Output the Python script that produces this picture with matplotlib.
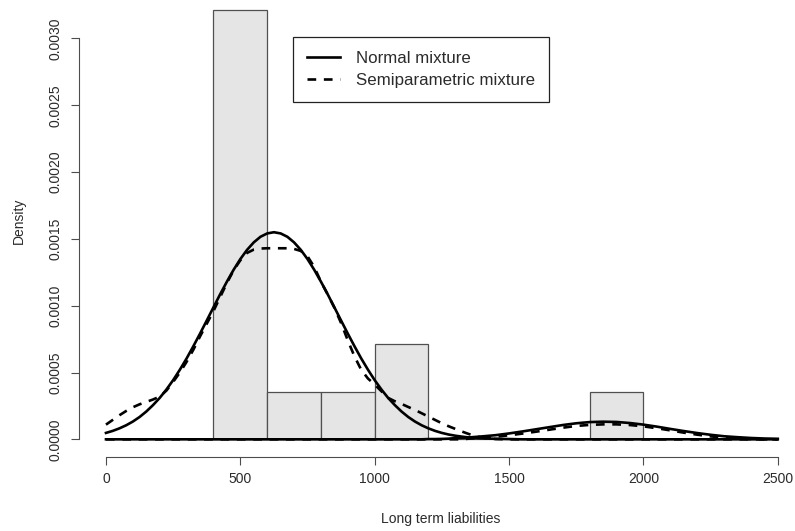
import numpy as np
import matplotlib.pyplot as plt

plt.rcParams['font.family'] = ['Liberation Sans', 'DejaVu Sans']

# histogram of long term liabilities (bin edges and counts per bin)
bin_edges = [400, 600, 800, 1000, 1200, 1400, 1600, 1800, 2000]
bin_counts = [9, 1, 1, 2, 0, 0, 0, 1]

# density curves:
# x every 25 from 0 to 1400, then every 50 up to 2500
x_grid = list(range(0, 1401, 25)) + list(range(1450, 2501, 50))

normal_comp1 = [0.000048, 0.000063, 0.000082, 0.000105, 0.000133, 0.000167,
                0.000208, 0.000256, 0.000310, 0.000373, 0.000443, 0.000521,
                0.000605, 0.000696, 0.000791, 0.000889, 0.000988, 0.001086,
                0.001180, 0.001269, 0.001349, 0.001418, 0.001474, 0.001516,
                0.001541, 0.001550, 0.001541, 0.001516, 0.001474, 0.001418,
                0.001349, 0.001269, 0.001180, 0.001086, 0.000988, 0.000889,
                0.000791, 0.000696, 0.000605, 0.000521, 0.000443, 0.000373,
                0.000310, 0.000256, 0.000208, 0.000167, 0.000133, 0.000105,
                0.000082, 0.000063, 0.000048, 0.000036, 0.000027, 0.000020,
                0.000014, 0.000010, 0.000007,
                0.000004, 0.000002] + [0.0] * 20
normal_comp2 = [0.0] * 48 + [0.000002, 0.000002, 0.000003, 0.000005, 0.000009,
                             0.000011, 0.000014, 0.000018, 0.000022,
                             0.000031, 0.000044, 0.000059, 0.000075, 0.000091,
                             0.000107, 0.000120, 0.000129, 0.000132, 0.000130,
                             0.000122, 0.000110, 0.000095, 0.000078, 0.000062,
                             0.000047, 0.000034, 0.000023, 0.000016, 0.000010,
                             0.000006, 0.000004]

semi_comp1 = [0.000110, 0.000145, 0.000180, 0.000212, 0.000240, 0.000262,
              0.000280, 0.000298, 0.000320, 0.000365, 0.000430, 0.000500,
              0.000580, 0.000670, 0.000770, 0.000865, 0.000960, 0.001065,
              0.001170, 0.001265, 0.001340, 0.001395, 0.001420, 0.001428,
              0.001430, 0.001430, 0.001430, 0.001430, 0.001425, 0.001410,
              0.001370, 0.001290, 0.001180, 0.001085, 0.000985, 0.000870,
              0.000740, 0.000620, 0.000520, 0.000455, 0.000410, 0.000360,
              0.000310, 0.000285, 0.000265, 0.000242, 0.000220, 0.000195,
              0.000170, 0.000145, 0.000120, 0.000098, 0.000078, 0.000058,
              0.000040, 0.000024, 0.000012,
              0.000002] + [0.0] * 21
semi_comp2 = [0.0] * 54 + [0.000005, 0.000008, 0.000012,
                           0.000020, 0.000030, 0.000043, 0.000057, 0.000072,
                           0.000087, 0.000100, 0.000108, 0.000112, 0.000112,
                           0.000107, 0.000097, 0.000083, 0.000067, 0.000050,
                           0.000035, 0.000022, 0.000012, 0.000006, 0.000002,
                           0.0, 0.0]

x_ticks = [0, 500, 1000, 1500, 2000, 2500]
y_ticks = [0.0, 0.0005, 0.0010, 0.0015, 0.0020, 0.0025, 0.0030]

txt = '#2b2b2b'
axc = '#4d4d4d'

fig = plt.figure(figsize=(7.95, 5.31), dpi=100)
ax = fig.add_axes([0.0995, 0.1403, 0.9126, 0.8734])

ax.hist(bin_edges[:-1], bins=bin_edges, weights=bin_counts, density=True,
        color='#e5e5e5', edgecolor='#505050', linewidth=0.9)

dash = (0, (3.3, 2.9))
ax.plot(x_grid, normal_comp1, color='black', lw=1.9, label='Normal mixture')
ax.plot(x_grid, normal_comp2, color='black', lw=1.9)
ax.plot(x_grid, semi_comp1, color='black', lw=1.9, ls=dash,
        label='Semiparametric mixture')
ax.plot(x_grid, semi_comp2, color='black', lw=1.9, ls=dash)

ymax = 0.003214
ax.set_xlim(-100, 2600)
ax.set_ylim(-0.04 * ymax, 1.04 * ymax)

for s in ['top', 'right']:
    ax.spines[s].set_visible(False)
ax.spines['left'].set_bounds(0, 0.003)
ax.spines['bottom'].set_bounds(0, 2500)
for s in ['left', 'bottom']:
    ax.spines[s].set_color(axc)
    ax.spines[s].set_linewidth(0.8)

ax.set_xticks(x_ticks)
ax.set_xticklabels([str(v) for v in x_ticks])
ax.set_yticks(y_ticks)
ax.set_yticklabels(['%.4f' % v for v in y_ticks], rotation=90, va='center')
ax.tick_params(axis='both', direction='out', length=6, width=0.8,
               color=axc, labelcolor=txt, labelsize=10)
ax.tick_params(axis='x', pad=5)
ax.tick_params(axis='y', pad=6)

fig.text(441 / 795, 1 - 519 / 531, 'Long term liabilities', ha='center',
         va='center', fontsize=10, color=txt)
fig.text(19 / 795, 1 - 221 / 531, 'Density', ha='center', va='center',
         rotation=90, fontsize=10, color=txt)

leg = ax.legend(loc='upper left', bbox_to_anchor=(293 / 795, 1 - 37 / 531),
                bbox_transform=fig.transFigure, borderaxespad=0,
                fancybox=False, framealpha=1, edgecolor='#222222',
                fontsize=12.2, handlelength=1.9, handletextpad=0.95,
                borderpad=0.85, labelspacing=0.38)
leg.get_frame().set_linewidth(0.9)
for t in leg.get_texts():
    t.set_color(txt)

fig.savefig('out.png', dpi=100)
